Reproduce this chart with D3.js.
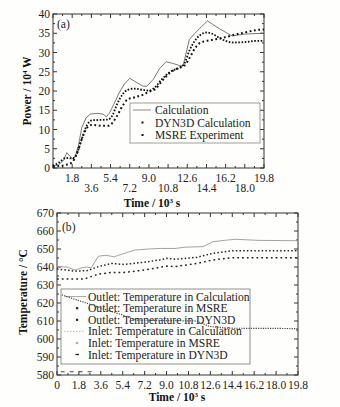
<!DOCTYPE html>
<html>
<head>
<meta charset="utf-8">
<script src="https://cdn.jsdelivr.net/npm/d3@7"></script>
<style>
  body { margin: 0; background: #fefefc; }
  svg { display: block; font-family: "Liberation Serif", "Times New Roman", serif; }
  .tick-label { font-size: 11.5px; fill: #222; }
  .axis-title { font-size: 11.5px; font-weight: bold; fill: #111; }
  .legend-text { font-size: 11.6px; fill: #222; }
</style>
</head>
<body>
<div id="chart"></div>
<script>
// ---- panel (a): reactor power, [time (10^3 s), power (10^4 W)]
const powerCalc = [[0,0.5],[0.5,0.8],[1.0,2.0],[1.3,4.0],[1.8,2.4],[2.1,3.0],[2.4,6],[2.7,10.5],[3.1,13],[3.5,14],[4.2,14.2],[4.7,14],[5.0,13.3],[5.3,14.3],[5.7,16.5],[6.2,19.5],[6.7,21.8],[7.2,23.3],[7.8,22.3],[8.4,21.3],[8.8,21.2],[9.4,23],[10.0,25.8],[10.6,27.6],[11.2,27.2],[11.9,26.6],[12.2,26.5],[12.8,33.4],[13.6,35.8],[14.5,38.2],[15.6,36.2],[16.8,34.3],[18.0,34.8],[19.8,35]];
const powerDyn3d = [[0,0.5],[0.6,1.5],[1.2,2.6],[1.8,2.5],[2.2,3.5],[2.7,7.5],[3.2,11.2],[3.7,12.4],[4.5,12.5],[5.2,12.6],[5.6,13.8],[6.0,16.5],[6.5,19],[7.0,20.3],[7.6,20.6],[8.4,20.3],[9.0,20.1],[9.5,20.8],[10.2,23],[11.0,25],[11.8,26],[12.3,27],[12.8,30.5],[13.3,33],[13.8,34.5],[14.4,35.2],[15.0,34.8],[15.6,33.8],[16.2,33],[17.0,32.6],[18.0,32.7],[19.0,33],[19.8,33]];
const powerMsre = [[0,0.3],[0.6,0.5],[1.2,0.8],[1.8,1.5],[2.2,3.5],[2.7,7.5],[3.2,10.5],[3.6,11.2],[4.5,11],[5.2,11],[5.6,11.8],[6.0,13.5],[6.5,16],[7.0,17.8],[7.6,18.3],[8.4,19],[9.0,19.8],[9.6,20.5],[10.2,22.5],[11.0,24.8],[11.8,26],[12.3,26.5],[12.8,28.5],[13.3,31],[13.8,32.5],[14.4,33],[15.2,33.4],[16.2,34],[17.0,34.6],[18.0,35.2],[19.0,35.8],[19.8,36]];

// ---- panel (b): temperatures, [time (10^3 s), temperature (°C)]
const outletCalc = [[0,640.2],[0.8,640],[1.5,638.3],[2.0,639.5],[2.4,640],[2.8,639.5],[3.4,646],[4.0,646.5],[4.7,645.7],[5.5,647.5],[6.4,649.4],[7.5,650],[8.5,650.3],[9.7,650.3],[10.5,651],[12.0,651.3],[12.8,654],[14.0,655],[14.7,655.4],[16.5,654.8],[19.8,654.6]];
const outletMsre = [[0,638.9],[1.5,637.7],[2.5,638],[3.4,640.2],[4.5,642],[5.5,641.4],[7.2,642.7],[8.5,644],[9.0,644.8],[9.7,644.3],[11.5,645.4],[12.8,647.6],[14.4,649],[19.8,649]];
const outletDyn3d = [[0,633.3],[2.2,633.3],[3.4,636],[4.5,637],[5.5,637],[7.2,638.3],[9.0,640.5],[9.7,640.2],[11.5,642],[12.8,643.9],[14.4,645.2],[19.8,645.2]];
const inletCalc = [[0.4,624.5],[1.5,622],[3.5,617.5],[5.5,613],[6.5,610.5],[11.5,610],[12.5,607],[14,606],[19.8,605.8]];
const inletDyn3d = [[0.3,581.8],[3.0,581.8]];

const timeTicks = [0, 1.8, 3.6, 5.4, 7.2, 9.0, 10.8, 12.6, 14.4, 16.2, 18.0, 19.8];
const powerTicks = [0, 5, 10, 15, 20, 25, 30, 35, 40];
const tempTicks = [580, 590, 600, 610, 620, 630, 640, 650, 660, 670];

const powerLegend = ['Calculation', 'DYN3D Calculation', 'MSRE Experiment'];
const tempLegend = ['Outlet: Temperature in Calculation', 'Outlet: Temperature in MSRE',
  'Outlet: Temperature in DYN3D', 'Inlet: Temperature in Calculation',
  'Inlet: Temperature in MSRE', 'Inlet: Temperature in DYN3D'];

const svg = d3.select('#chart').append('svg')
  .attr('width', 340)
  .attr('height', 407);

// draws frame with inward ticks on all four sides
function drawFrame(x, y, yTicks, yMinorStep) {
  const [x0, x1] = x.range();
  const [y0, y1] = y.range(); // y0 bottom, y1 top
  const g = svg.append('g');

  g.append('rect')
    .attr('x', x0).attr('y', y1)
    .attr('width', x1 - x0).attr('height', y0 - y1)
    .attr('fill', 'none').attr('stroke', '#333').attr('stroke-width', 1);

  const xMinor = d3.range(0, 19.81, 0.9);
  const yMinor = d3.range(y.domain()[0], y.domain()[1] + 0.01, yMinorStep);

  xMinor.forEach((t, i) => {
    const len = i % 2 === 0 ? 4 : 2;
    g.append('line').attr('x1', x(t)).attr('x2', x(t)).attr('y1', y0).attr('y2', y0 - len).attr('stroke', '#333');
    g.append('line').attr('x1', x(t)).attr('x2', x(t)).attr('y1', y1).attr('y2', y1 + len).attr('stroke', '#333');
  });
  yMinor.forEach(v => {
    const len = yTicks.includes(v) ? 4 : 2;
    g.append('line').attr('x1', x0).attr('x2', x0 + len).attr('y1', y(v)).attr('y2', y(v)).attr('stroke', '#333');
    g.append('line').attr('x1', x1).attr('x2', x1 - len).attr('y1', y(v)).attr('y2', y(v)).attr('stroke', '#333');
  });

  g.selectAll('.ylab')
    .data(yTicks)
    .join('text')
    .attr('class', 'tick-label')
    .attr('x', x0 - 3)
    .attr('y', d => y(d))
    .attr('dy', '0.35em')
    .attr('text-anchor', 'end')
    .text(d => d);
}

function timeTitle(x, yPos) {
  const t = svg.append('text')
    .attr('class', 'axis-title')
    .attr('x', x).attr('y', yPos)
    .attr('text-anchor', 'middle');
  t.append('tspan').text('Time / 10');
  t.append('tspan').attr('dy', -4).attr('font-size', 7).text('3');
  t.append('tspan').attr('dy', 4).text(' s');
}

// ---------- panel (a)
const xA = d3.scaleLinear().domain([0, 19.8]).range([53, 264]);
const yA = d3.scaleLinear().domain([0, 40]).range([168, 14]);
drawFrame(xA, yA, powerTicks, 2.5);

svg.selectAll('.xlabA')
  .data(timeTicks.slice(1))
  .join('text')
  .attr('class', 'tick-label')
  .attr('x', d => xA(d))
  .attr('y', (d, i) => i % 2 === 0 ? 182 : 192)
  .attr('text-anchor', 'middle')
  .text(d => d.toFixed(1));

timeTitle(152, 207);

const pTitle = svg.append('text')
  .attr('class', 'axis-title')
  .attr('transform', 'translate(31,91) rotate(-90)')
  .attr('text-anchor', 'middle');
pTitle.append('tspan').text('Power / 10');
pTitle.append('tspan').attr('dy', -4).attr('font-size', 7).text('4');
pTitle.append('tspan').attr('dy', 4).text(' W');

svg.append('text').attr('class', 'legend-text').attr('x', 57).attr('y', 28).text('(a)');

const lineA = d3.line().x(d => xA(d[0])).y(d => yA(d[1]));
const smoothA = d3.line().x(d => xA(d[0])).y(d => yA(d[1])).curve(d3.curveMonotoneX);

svg.append('path').datum(powerCalc).attr('d', lineA)
  .attr('fill', 'none').attr('stroke', '#555').attr('stroke-width', 0.8);
svg.append('path').datum(powerDyn3d).attr('d', smoothA)
  .attr('fill', 'none').attr('stroke', '#111').attr('stroke-width', 1.8)
  .attr('stroke-dasharray', '1.6,1.6');
svg.append('path').datum(powerMsre).attr('d', smoothA)
  .attr('fill', 'none').attr('stroke', '#111').attr('stroke-width', 2)
  .attr('stroke-dasharray', '1.8,2.6');

// legend (a)
const legA = svg.append('g');
legA.append('rect').attr('x', 130).attr('y', 103).attr('width', 130).attr('height', 40)
  .attr('fill', '#fefefc').attr('stroke', '#888').attr('stroke-width', 0.8);
powerLegend.forEach((name, i) => {
  const yy = 110 + i * 12.5;
  if (i === 0) {
    legA.append('line').attr('x1', 133).attr('x2', 151).attr('y1', yy).attr('y2', yy)
      .attr('stroke', '#888').attr('stroke-width', 1);
  } else {
    legA.append('rect').attr('x', 141.5).attr('y', yy - 1).attr('width', 2).attr('height', 2).attr('fill', '#111');
  }
  legA.append('text').attr('class', 'legend-text').attr('x', 155).attr('y', yy).attr('dy', '0.35em').text(name);
});

// ---------- panel (b)
const xB = d3.scaleLinear().domain([0, 19.8]).range([57, 298]);
const yB = d3.scaleLinear().domain([580, 670]).range([375, 213]);
drawFrame(xB, yB, tempTicks, 5);

svg.selectAll('.xlabB')
  .data(timeTicks)
  .join('text')
  .attr('class', 'tick-label')
  .attr('x', d => xB(d))
  .attr('y', 389)
  .attr('text-anchor', 'middle')
  .text(d => d === 0 ? '0' : d.toFixed(1));

timeTitle(177, 401);

svg.append('text')
  .attr('class', 'axis-title')
  .attr('transform', 'translate(27,292) rotate(-90)')
  .attr('text-anchor', 'middle')
  .text('Temperature / °C');

svg.append('text').attr('class', 'legend-text').attr('x', 62).attr('y', 231).text('(b)');

const lineB = d3.line().x(d => xB(d[0])).y(d => yB(d[1]));

svg.append('path').datum(outletCalc).attr('d', lineB)
  .attr('fill', 'none').attr('stroke', '#999').attr('stroke-width', 0.9);
svg.append('path').datum(outletMsre).attr('d', lineB)
  .attr('fill', 'none').attr('stroke', '#222').attr('stroke-width', 1.5)
  .attr('stroke-dasharray', '1.5,2.2');
svg.append('path').datum(outletDyn3d).attr('d', lineB)
  .attr('fill', 'none').attr('stroke', '#222').attr('stroke-width', 1.5)
  .attr('stroke-dasharray', '1.8,3');

// legend (b)
const legB = svg.append('g');
legB.append('rect').attr('x', 61).attr('y', 289).attr('width', 189).attr('height', 75)
  .attr('fill', '#fefefc').attr('stroke', '#777').attr('stroke-width', 0.8);
tempLegend.forEach((name, i) => {
  const yy = 296.5 + i * 11.6;
  if (i === 0) {
    legB.append('line').attr('x1', 65).attr('x2', 86).attr('y1', yy).attr('y2', yy)
      .attr('stroke', '#aaa').attr('stroke-width', 1);
  } else if (i === 3) {
    legB.append('line').attr('x1', 64).attr('x2', 84).attr('y1', yy).attr('y2', yy)
      .attr('stroke', '#bbb').attr('stroke-width', 1).attr('stroke-dasharray', '1.5,1.5');
  } else if (i === 4) {
    legB.append('rect').attr('x', 76).attr('y', yy - 1).attr('width', 2.2).attr('height', 2.2).attr('fill', '#aaa');
  } else if (i === 5) {
    legB.append('line').attr('x1', 75.5).attr('x2', 79).attr('y1', yy).attr('y2', yy)
      .attr('stroke', '#222').attr('stroke-width', 1.3);
  } else {
    legB.append('rect').attr('x', 76).attr('y', yy - 1).attr('width', 2.2).attr('height', 2.2).attr('fill', '#222');
  }
  legB.append('text').attr('class', 'legend-text').attr('x', 88).attr('y', yy).attr('dy', '0.35em').text(name);
});

// inlet curves are drawn over the legend, as in the original figure
svg.append('path').datum(inletCalc).attr('d', lineB)
  .attr('fill', 'none').attr('stroke', '#444').attr('stroke-width', 1.2)
  .attr('stroke-dasharray', '1.2,1.2');
svg.append('path').datum(inletDyn3d).attr('d', lineB)
  .attr('fill', 'none').attr('stroke', '#444').attr('stroke-width', 1)
  .attr('stroke-dasharray', '4,5');
</script>
</body>
</html>
